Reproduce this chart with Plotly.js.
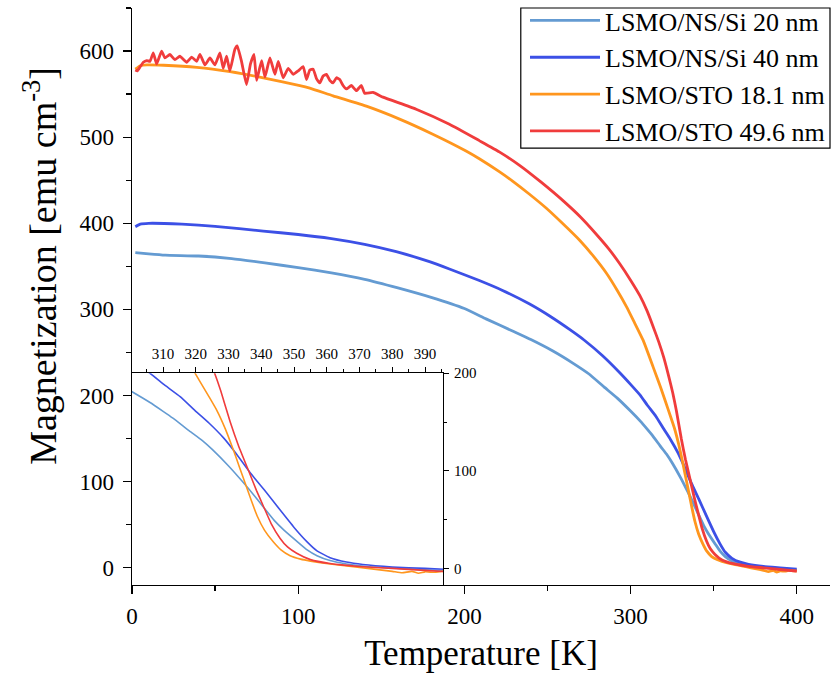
<!DOCTYPE html>
<html>
<head>
<meta charset="utf-8">
<script src="https://cdn.plot.ly/plotly-3.0.1.min.js"></script>
<style>body{margin:0;padding:0;background:#fff}#chart{width:831px;height:680px}</style>
</head>
<body>
<div id="chart"></div>
<script>
// ---- data ----
const seriesNames = ["LSMO/NS/Si 20 nm", "LSMO/NS/Si 40 nm", "LSMO/STO 18.1 nm", "LSMO/STO 49.6 nm"];

const tempNS20 = [2,10,20,40,60,80,100,120,140,160,180,200,213,230,240,253,265,275,284,292,300,306,310,313,318,322,325,330,334.5,338,340.6,344,347,350.8,354,357,361,366,372,380,390,400];
const magNS20  = [366,364.5,363,362,359,354,348.5,342.5,335,325,314,301,289,274,265,252,238,225,210,197,182,170,161,154,141,131,122,105,88,74,63,49,39,28,19,13,8,4.5,2,0.5,-1.5,-3];

const tempNS40 = [2,5,10,30,50,79,100,119,140,159,179,191,209,223,239,252,263.5,272,283,293.5,300,306,310,315.2,320,324,328.4,332,336.6,341,345.7,350,353.9,357,361,366,371,380,390,400];
const magNS40  = [396,399,400,399,396.5,391,387,382.5,375.5,367,355.5,347,333.5,322,306.5,291.5,276.5,264.5,246.5,226.5,213,200,189,176,161,149,134,119,98,80,60,42,27.5,18,11,6.5,4,1.5,0,-1.5];

const tempSTO18 = [2,5,9,19,39,59,79,101,107,121,141,161,181,201,209,221,229,239,249,259,269.5,278,285.5,292,297.6,302,307.6,313.6,318,321,324,326.4,329,331.5,333.3,335.1,337,338.7,341,343.7,346,348.8,352,355,361,370,375,380,383,386,388,390,393,395,400];
const magSTO18  = [579,583,584,583.5,581,576,569,560,557,548,536,521,503.5,484,475,460,449,434,418,400,380,361,342,322,303,286,264,233,210,193,176,162,143,121,104,87,69,54,39,27,19,13,9.5,7.5,4.5,1,-1,-3,-4.5,-3,-5,-3.5,-4,-3,-4];

const tempSTO49 = [2,3.2,5,6.8,8.8,10.8,12.8,14.8,17.8,19.8,22.8,25.8,28.8,32.9,35.9,38.9,40.9,43.9,46.9,49.9,52.9,54.9,56.9,58.9,61.9,63.3,65.9,68.9,71.3,73.4,75,78,80,83,86,88,91,94,97,100,103,105,107,109,111,113,115,117,119,121,123,125,127,129,132,135,138,140,145,151,171,191,209,221,233.4,246,259.5,270,279.5,287,293.5,300,305.6,310,313.6,317,320,323,325.4,327.6,330.5,333,336.6,338.5,340.6,343,345.7,348,350.8,355,361,370,380,390,400];
const magSTO49  = [578,577,582,587,589,588,598,585,600,592,596,590,594,587,593,588,596,584,592,584,598,580,594,577,602,606,588,561,585,596,566,589,570,592,573,588,569,580,573,577,582,567,578,579,568,563,571,573,566,563,569,567,560,556,560,554,560,551,552,546.5,532.5,515,496,483,467,448,426,407,387,370,353,334,316,298,280,262,244,222,203,182,150,126,96,80,64,46,31,22,15.5,9,5,2,0,-2,-4];

const xTicksMain = [0,100,200,300,400];
const yTicksMain = [0,100,200,300,400,500,600];
const xTicksInset = [310,320,330,340,350,360,370,380,390];
const yTicksInset = [0,100,200];

const colors = ["#649bd2", "#3c50e6", "#ff961e", "#f03c3c"];
const temps = [tempNS20, tempNS40, tempSTO18, tempSTO49];
const mags  = [magNS20, magNS40, magSTO18, magSTO49];

const FONT = "Liberation Serif, Times New Roman, serif";
const traces = [];
for (let i = 0; i < 4; i++) {
  traces.push({x: temps[i], y: mags[i], type: "scatter", mode: "lines", name: seriesNames[i],
    line: {color: colors[i], width: 2.8, shape: "spline", smoothing: 0.4}, xaxis: "x", yaxis: "y", showlegend: true});
}
for (let i = 0; i < 4; i++) {
  traces.push({x: temps[i], y: mags[i], type: "scatter", mode: "lines", name: seriesNames[i],
    line: {color: colors[i], width: 1.6, shape: "spline", smoothing: 0.4}, xaxis: "x2", yaxis: "y2", showlegend: false, hoverinfo: "skip"});
}

const layout = {
  width: 831, height: 680,
  margin: {l: 132, r: 1, t: 8, b: 95, autoexpand: false},
  paper_bgcolor: "#fff", plot_bgcolor: "#fff",
  font: {family: FONT, color: "#000", size: 23},
  showlegend: true,
  legend: {x: 1, xanchor: "right", y: 1.019, yanchor: "top", bgcolor: "rgba(0,0,0,0)",
    borderwidth: 0, font: {family: FONT, size: 26, color: "#000"},
    itemwidth: 70, tracegroupgap: 0},
  shapes: [{type: "rect", xref: "paper", yref: "paper", x0: 0.557, x1: 1, y0: 0.757, y1: 1,
    line: {color: "#000", width: 1.2}, fillcolor: "rgba(0,0,0,0)", layer: "above"}],
  xaxis: {domain: [0, 1], range: [0, 420], tickvals: xTicksMain, ticks: "outside", ticklen: 8, tickwidth: 1.3,
    tickcolor: "#000", showline: true, linecolor: "#000", linewidth: 1.3, showgrid: false, zeroline: false,
    tickfont: {family: FONT, size: 23}, ticklabelstandoff: 2,
    minor: {dtick: 50, tick0: 0, ticks: "outside", ticklen: 5, tickcolor: "#000", tickwidth: 1.3, showgrid: false},
    title: {text: "Temperature [K]", font: {family: FONT, size: 35}, standoff: 12}},
  yaxis: {domain: [0, 1], range: [-20, 650], tickvals: yTicksMain, ticks: "outside", ticklen: 8, tickwidth: 1.3,
    tickcolor: "#000", showline: true, linecolor: "#000", linewidth: 1.3, showgrid: false, zeroline: false,
    tickfont: {family: FONT, size: 23}, ticklabelstandoff: 4,
    minor: {dtick: 50, tick0: 0, ticks: "outside", ticklen: 5, tickcolor: "#000", tickwidth: 1.3, showgrid: false}},
  xaxis3: {overlaying: "x", side: "top", anchor: "y", range: [0, 420], tickvals: xTicksMain, ticks: "inside", ticklen: 5,
    tickcolor: "#000", tickwidth: 1.3, showticklabels: false, showline: true, linecolor: "#000", linewidth: 1.3,
    showgrid: false, zeroline: false,
    minor: {dtick: 50, tick0: 0, ticks: "inside", ticklen: 4, tickcolor: "#000", tickwidth: 1.3, showgrid: false}},
  yaxis3: {overlaying: "y", side: "right", anchor: "x", range: [-20, 650], tickvals: yTicksMain, ticks: "inside", ticklen: 5,
    tickcolor: "#000", tickwidth: 1.3, showticklabels: false, showline: true, linecolor: "#000", linewidth: 1.3,
    showgrid: false, zeroline: false,
    minor: {dtick: 50, tick0: 0, ticks: "inside", ticklen: 4, tickcolor: "#000", tickwidth: 1.3, showgrid: false}},
  xaxis2: {domain: [0, 0.4456], anchor: "y2", side: "top", range: [300.5, 395.5], tickvals: xTicksInset,
    ticks: "outside", ticklen: 5, tickwidth: 1, tickcolor: "#000", showline: true, linecolor: "#000", linewidth: 1,
    showgrid: false, zeroline: false, tickfont: {family: FONT, size: 15}, ticklabelstandoff: 2,
    minor: {dtick: 5, tick0: 300, ticks: "outside", ticklen: 3, tickcolor: "#000", tickwidth: 1, showgrid: false}},
  yaxis2: {domain: [0, 0.367], anchor: "x2", side: "right", range: [-17, 200], tickvals: yTicksInset,
    ticks: "outside", ticklen: 5, tickwidth: 1, tickcolor: "#000", showline: true, linecolor: "#000", linewidth: 1,
    showgrid: false, zeroline: false, tickfont: {family: FONT, size: 15}, ticklabelstandoff: 2,
    minor: {dtick: 50, tick0: 0, ticks: "outside", ticklen: 3, tickcolor: "#000", tickwidth: 1, showgrid: false}},
  annotations: [{xref: "paper", yref: "paper", x: -0.132, y: 0.553, xanchor: "center", yanchor: "middle",
    text: "Magnetization [emu cm<sup>-3</sup>]", textangle: -90, showarrow: false,
    font: {family: FONT, size: 38, color: "#000"}}]
};

Plotly.newPlot("chart", traces, layout, {displayModeBar: false, staticPlot: true});
</script>
</body>
</html>
